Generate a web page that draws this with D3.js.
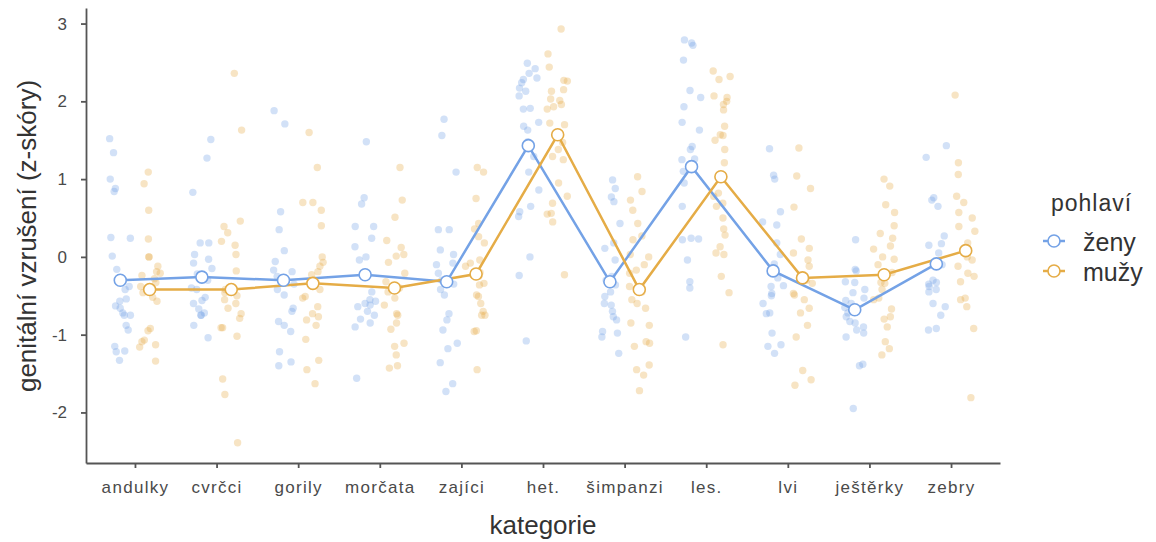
<!DOCTYPE html>
<html>
<head>
<meta charset="utf-8">
<script src="https://cdn.jsdelivr.net/npm/d3@7"></script>
<style>
  body { margin: 0; background: #fff; }
  svg text { font-family: "Liberation Sans", Arial, sans-serif; }
</style>
</head>
<body>
<div id="chart"></div>
<script>
// categories on the x axis
const categories = ['andulky', 'cvrčci', 'gorily', 'morčata', 'zajíci', 'het.', 'šimpanzi', 'les.', 'lvi', 'ještěrky', 'zebry'];
const groups = ['ženy', 'mužy'];

// group means (z-scores)
const meanZeny = [-0.30, -0.26, -0.30, -0.23, -0.32, 1.43, -0.32, 1.16, -0.18, -0.68, -0.09];
const meanMuzy = [-0.42, -0.42, -0.34, -0.40, -0.22, 1.57, -0.42, 1.03, -0.27, -0.23, 0.08];

// individual z-scores, women
const rawZeny = [
  [1.52, 1.34, 1.0, 0.88, 0.84, 0.25, 0.24, 0.01, -0.16, -0.38, -0.42, -0.54, -0.57, -0.63, -0.66, -0.72, -0.75, -0.75, -0.88, -0.94, -1.15, -1.21, -1.22, -1.33],
  [1.51, 1.27, 0.83, 0.18, 0.18, 0.03, -0.03, -0.08, -0.15, -0.22, -0.30, -0.40, -0.42, -0.52, -0.56, -0.60, -0.67, -0.72, -0.75, -0.75, -0.88, -1.04],
  [1.88, 1.71, 0.58, 0.35, 0.08, -0.06, -0.17, -0.19, -0.25, -0.30, -0.35, -0.42, -0.49, -0.66, -0.70, -0.83, -0.88, -0.96, -1.22, -1.35, -1.40],
  [1.48, 0.76, 0.68, 0.39, 0.39, 0.24, 0.13, 0.0, -0.04, -0.20, -0.45, -0.55, -0.57, -0.60, -0.62, -0.64, -0.70, -0.75, -0.80, -0.85, -0.90, -1.56],
  [1.77, 1.56, 1.09, 0.35, 0.35, 0.09, 0.03, -0.08, -0.10, -0.21, -0.30, -0.35, -0.42, -0.49, -0.73, -0.81, -0.94, -1.11, -1.18, -1.36, -1.63, -1.73],
  [2.49, 2.42, 2.36, 2.30, 2.28, 2.24, 2.17, 2.13, 2.07, 1.91, 1.90, 1.73, 1.68, 1.63, 1.48, 1.29, 1.09, 0.86, 0.65, 0.58, 0.52, 0.0, -0.24, -1.08],
  [0.99, 0.88, 0.77, 0.71, 0.43, 0.18, 0.11, -0.04, -0.25, -0.30, -0.36, -0.45, -0.51, -0.60, -0.62, -0.70, -0.77, -0.81, -0.96, -0.98, -1.03, -1.24],
  [2.79, 2.75, 2.72, 2.53, 2.14, 2.05, 1.93, 1.73, 1.63, 1.42, 1.38, 1.26, 1.25, 1.10, 0.95, 0.65, 0.24, 0.23, 0.22, -0.04, -0.32, -0.40, -1.03],
  [1.39, 1.05, 1.00, 0.58, 0.45, 0.41, 0.18, 0.03, -0.09, -0.20, -0.27, -0.37, -0.38, -0.47, -0.50, -0.60, -0.72, -0.73, -0.98, -1.13, -1.15, -1.24],
  [0.22, -0.16, -0.18, -0.32, -0.33, -0.42, -0.46, -0.53, -0.56, -0.60, -0.65, -0.70, -0.72, -0.77, -0.83, -0.85, -0.90, -0.94, -0.98, -1.03, -1.38, -1.40, -1.95],
  [1.43, 1.28, 0.76, 0.73, 0.65, 0.27, 0.17, 0.15, 0.05, -0.10, -0.30, -0.33, -0.35, -0.38, -0.42, -0.45, -0.60, -0.64, -0.75, -0.92, -0.94]
];

// individual z-scores, men
const rawMuzy = [
  [1.09, 0.94, 0.60, 0.23, 0.0, 0.0, -0.12, -0.19, -0.21, -0.24, -0.28, -0.33, -0.38, -0.42, -0.46, -0.52, -0.57, -0.92, -0.95, -1.07, -1.09, -1.13, -1.16, -1.34],
  [2.36, 1.63, 0.46, 0.39, 0.31, 0.20, 0.15, 0.03, -0.18, -0.42, -0.46, -0.50, -0.55, -0.60, -0.66, -0.73, -0.79, -0.91, -0.91, -1.02, -1.57, -1.77, -2.39],
  [1.60, 1.15, 0.70, 0.70, 0.60, 0.40, 0.0, -0.07, -0.12, -0.19, -0.23, -0.30, -0.42, -0.51, -0.53, -0.64, -0.73, -0.77, -0.81, -0.88, -1.06, -1.33, -1.45, -1.63],
  [1.15, 0.73, 0.51, 0.21, 0.12, 0.03, 0.01, -0.07, -0.21, -0.32, -0.40, -0.45, -0.53, -0.62, -0.73, -0.75, -0.85, -0.93, -1.11, -1.15, -1.26, -1.40, -1.43],
  [1.15, 1.09, 0.75, 0.43, 0.36, 0.26, 0.18, -0.04, -0.08, -0.12, -0.20, -0.25, -0.34, -0.36, -0.49, -0.51, -0.60, -0.70, -0.75, -0.75, -0.95, -0.96, -1.45],
  [2.93, 2.61, 2.44, 2.27, 2.26, 2.15, 2.13, 2.03, 2.01, 1.96, 1.93, 1.90, 1.72, 1.70, 1.47, 1.38, 1.29, 1.25, 0.95, 0.78, 0.69, 0.56, 0.55, 0.45, -0.23],
  [1.03, 0.84, 0.73, 0.60, 0.43, 0.27, 0.22, 0.03, 0.0, -0.10, -0.17, -0.21, -0.38, -0.45, -0.55, -0.60, -0.66, -0.85, -0.88, -1.09, -1.11, -1.15, -1.39, -1.45, -1.52, -1.72],
  [2.39, 2.32, 2.28, 2.07, 2.05, 2.00, 1.96, 1.89, 1.68, 1.57, 1.56, 1.50, 1.38, 1.21, 1.00, 0.82, 0.78, 0.69, 0.65, 0.50, 0.36, 0.28, 0.13, 0.05, 0.03, -0.25, -0.46, -1.13],
  [1.40, 1.04, 0.88, 0.64, 0.23, 0.11, 0.05, -0.04, -0.12, -0.25, -0.30, -0.34, -0.47, -0.49, -0.55, -0.66, -0.72, -0.88, -1.03, -1.46, -1.58, -1.65],
  [1.00, 0.91, 0.67, 0.57, 0.40, 0.30, 0.24, 0.14, 0.10, 0.0, -0.03, -0.10, -0.20, -0.33, -0.34, -0.42, -0.53, -0.55, -0.67, -0.77, -0.80, -0.90, -1.09, -1.18, -1.26],
  [2.08, 1.21, 1.06, 0.78, 0.70, 0.57, 0.50, 0.39, 0.33, 0.18, 0.08, 0.0, -0.04, -0.12, -0.21, -0.25, -0.32, -0.53, -0.55, -0.64, -0.92, -1.81]
];

const yTicks = [-2, -1, 0, 1, 2, 3];
const colors = { 'ženy': '#74a2e6', 'mužy': '#e5ac46' };

const W = 1156, H = 542;
const svg = d3.select('#chart').append('svg')
  .attr('width', W)
  .attr('height', H);

const x = d3.scalePoint().domain(categories).range([86, 1000]).padding(0.6);
const y = d3.scaleLinear().domain([-2.65, 3.2]).range([463, 8]);
const dodge = x.step() * 0.18;
const jitterW = x.step() * 0.13;

// fixed hash jitter (horizontal only) so the picture is stable between runs
function jitter(i, j) {
  const s = Math.sin(i * 12.9898 + j * 78.233) * 43758.5453;
  const t = s - Math.floor(s);
  return (t - 0.5) * 2 * jitterW;
}

const series = [
  { name: 'ženy', means: meanZeny, raw: rawZeny, off: -dodge },
  { name: 'mužy', means: meanMuzy, raw: rawMuzy, off: dodge }
];

// raw points
series.forEach(function(s, si) {
  const pts = [];
  s.raw.forEach(function(vals, ci) {
    vals.forEach(function(v, j) {
      pts.push({ cat: categories[ci], v: v, j: j, ci: ci });
    });
  });
  svg.append('g').selectAll('circle')
    .data(pts)
    .enter()
    .append('circle')
    .attr('cx', d => x(d.cat) + s.off + jitter(d.ci + si * 17, d.j))
    .attr('cy', d => y(d.v))
    .attr('r', 3.7)
    .attr('fill', colors[s.name])
    .attr('fill-opacity', 0.32);
});

// mean lines
const line = d3.line().x(d => d[0]).y(d => d[1]);
series.forEach(function(s) {
  const pts = categories.map((c, i) => [x(c) + s.off, y(s.means[i])]);
  svg.append('path')
    .attr('d', line(pts))
    .attr('fill', 'none')
    .attr('stroke', colors[s.name])
    .attr('stroke-width', 2.5);
});

// mean markers
series.forEach(function(s) {
  svg.append('g').selectAll('circle')
    .data(s.means)
    .enter()
    .append('circle')
    .attr('cx', (d, i) => x(categories[i]) + s.off)
    .attr('cy', d => y(d))
    .attr('r', 6)
    .attr('fill', '#fff')
    .attr('stroke', colors[s.name])
    .attr('stroke-width', 1.6);
});

// axes
const axisColor = '#555';
const gy = svg.append('g')
  .attr('transform', 'translate(86,0)')
  .call(d3.axisLeft(y).tickValues(yTicks).tickSize(5).tickSizeOuter(0).tickPadding(14).tickFormat(d => String(d)));
const gx = svg.append('g')
  .attr('transform', 'translate(0,463)')
  .call(d3.axisBottom(x).tickSize(5).tickSizeOuter(0).tickPadding(13));

[gx, gy].forEach(function(g) {
  g.select('.domain').attr('stroke', axisColor).attr('stroke-width', 1.8);
  g.selectAll('.tick line').attr('stroke', axisColor).attr('stroke-width', 1.8);
  g.selectAll('.tick text')
    .attr('fill', '#4a4a4a')
    .style('font-size', '17px')
    .style('font-family', '"Liberation Sans", Arial, sans-serif');
});
gx.selectAll('.tick text').style('letter-spacing', '1.3px');

// axis titles
svg.append('text')
  .attr('x', 543)
  .attr('y', 534)
  .attr('text-anchor', 'middle')
  .attr('fill', '#333')
  .style('font-size', '26px')
  .text('kategorie');

svg.append('text')
  .attr('transform', 'translate(36,236) rotate(-90)')
  .attr('text-anchor', 'middle')
  .attr('fill', '#333')
  .style('font-size', '26px')
  .text('genitální vzrušení (z-skóry)');

// legend
const legend = svg.append('g');
legend.append('text')
  .attr('x', 1051)
  .attr('y', 211)
  .attr('fill', '#333')
  .style('font-size', '23px')
  .style('letter-spacing', '1px')
  .text('pohlaví');

groups.forEach(function(gname, i) {
  const ky = 241 + i * 30;
  legend.append('line')
    .attr('x1', 1043).attr('x2', 1065)
    .attr('y1', ky).attr('y2', ky)
    .attr('stroke', colors[gname])
    .attr('stroke-width', 2.5);
  legend.append('circle')
    .attr('cx', 1054).attr('cy', ky)
    .attr('r', 6)
    .attr('fill', '#fff')
    .attr('stroke', colors[gname])
    .attr('stroke-width', 1.6);
  legend.append('text')
    .attr('x', 1083)
    .attr('y', ky + 10)
    .attr('fill', '#333')
    .style('font-size', '25px')
    .text(gname);
});
</script>
</body>
</html>
